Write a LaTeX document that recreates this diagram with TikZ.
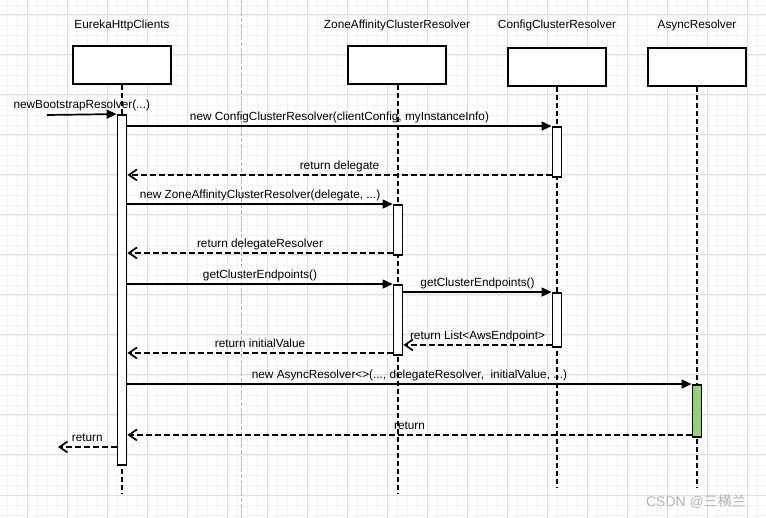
\documentclass[tikz,border=0pt]{standalone}
\usepackage{fontspec}
\setmainfont{Liberation Sans}
\newfontfamily\cjkfont{Noto Sans CJK SC}
\usetikzlibrary{arrows.meta}
\definecolor{gridmajor}{HTML}{E0E0E0}
\definecolor{gridminor}{HTML}{F3F3F3}
\definecolor{actgreen}{HTML}{97D077}
\definecolor{markgray}{HTML}{B4B4B4}

\begin{document}
\begin{tikzpicture}[x=1pt,y=-1pt]
\tikzstyle{every node}+=[inner sep=0pt, font=\fontsize{11.8}{14}\selectfont]
\tikzstyle{head}=[draw, line width=2pt, fill=white, minimum width=98pt, minimum height=38pt]
\tikzstyle{act}=[draw, line width=1.9pt, fill=white, minimum width=9pt]
\tikzstyle{life}=[line width=2pt, dash pattern=on 5pt off 3pt]
\tikzstyle{call}=[line width=1.7pt, -{Triangle[length=10pt,width=9pt]}]
\tikzstyle{ret}=[line width=1.7pt, dash pattern=on 6pt off 3pt, -{Straight Barb[length=8pt,width=11pt]}]
\tikzstyle{lbl}=[midway, above=5pt, text depth=0pt]
% background grid
\useasboundingbox (0,0) rectangle (766,518);
\fill[white] (0,0) rectangle (766,518);
\foreach \x in {7,17,...,757} \draw[gridminor, line width=0.8pt] (\x,0) -- (\x,518);
\foreach \y in {5,15,...,515} \draw[gridminor, line width=0.8pt] (0,\y) -- (766,\y);
\foreach \x in {27,67,...,747} \draw[gridmajor, line width=1pt] (\x,0) -- (\x,518);
\foreach \y in {15,55,...,495} \draw[gridmajor, line width=1pt] (0,\y) -- (766,\y);
\draw[markgray, line width=0.8pt, dash pattern=on 4pt off 2pt] (241,0) -- (241,518);
% lifelines
\node[head] (ehc) at (122,65) {};
\node[head] (zone) at (397,65) {};
\node[head] (cfg) at (557,67) {};
\node[head] (async) at (697,67) {};
\node at (122,25) {EurekaHttpClients};
\node at (397,25) {ZoneAffinityClusterResolver};
\node at (557,25) {ConfigClusterResolver};
\node at (697,25) {AsyncResolver};
\coordinate (ehcEnd) at (122,494);
\coordinate (zoneEnd) at (398,494);
\coordinate (cfgEnd) at (557,488);
\coordinate (asyncEnd) at (697,488);
\draw[life] (ehc.south) -- (ehcEnd);
\draw[life] (zone.south -| zoneEnd) -- (zoneEnd);
\draw[life] (cfg.south) -- (cfgEnd);
\draw[life] (async.south) -- (asyncEnd);
% activations
\node[act, minimum height=350pt] (ehcA) at (122,290) {};
\node[act, minimum height=50pt] (zoneA1) at (398,230) {};
\node[act, minimum height=70pt] (zoneA2) at (398,320) {};
\node[act, minimum height=50pt] (cfgA1) at (557,152) {};
\node[act, minimum height=54pt] (cfgA2) at (557,320) {};
\node[act, minimum height=52pt, fill=actgreen] (asyncA) at (697,411) {};
% messages
\coordinate (in) at (47,115);
\coordinate (out) at (58,447);
\draw[call] (in) -- (ehcA.north west) node[lbl] {newBootstrapResolver(...)};
\draw[call] (cfgA1.north west -| ehcA.east) -- (cfgA1.north west) node[lbl] {new ConfigClusterResolver(clientConfig, myInstanceInfo)};
\draw[ret] ([yshift=3pt]cfgA1.south west) -- ([yshift=3pt]cfgA1.south west -| ehcA.east) node[lbl] {return delegate};
\draw[call] (zoneA1.north west -| ehcA.east) -- (zoneA1.north west) node[lbl] {new ZoneAffinityClusterResolver(delegate, ...)};
\draw[ret] ([yshift=3pt]zoneA1.south west) -- ([yshift=3pt]zoneA1.south west -| ehcA.east) node[lbl] {return delegateResolver};
\draw[call] (zoneA2.north west -| ehcA.east) -- (zoneA2.north west) node[lbl] {getClusterEndpoints()};
\draw[call] (cfgA2.north west -| zoneA2.east) -- (cfgA2.north west) node[lbl] {getClusterEndpoints()};
\draw[ret] ([yshift=3pt]cfgA2.south west) -- ([yshift=3pt]cfgA2.south west -| zoneA2.east) node[lbl] {return List<AwsEndpoint>};
\draw[ret] ([yshift=3pt]zoneA2.south west) -- ([yshift=3pt]zoneA2.south west -| ehcA.east) node[lbl] {return initialValue};
\draw[call] (asyncA.north west -| ehcA.east) -- (asyncA.north west) node[lbl] {new AsyncResolver<>(..., delegateResolver,\ \ initialValue, ...)};
\draw[ret] ([yshift=3pt]asyncA.south west) -- ([yshift=3pt]asyncA.south west -| ehcA.east) node[lbl] {return};
\draw[ret] (out -| ehcA.west) -- (out) node[lbl] {return};
% watermark
\node[text=markgray, font=\fontsize{14}{16}\selectfont] (mark) at (696,502) {CSDN @{\cjkfont 三横兰}};
\end{tikzpicture}
\end{document}
